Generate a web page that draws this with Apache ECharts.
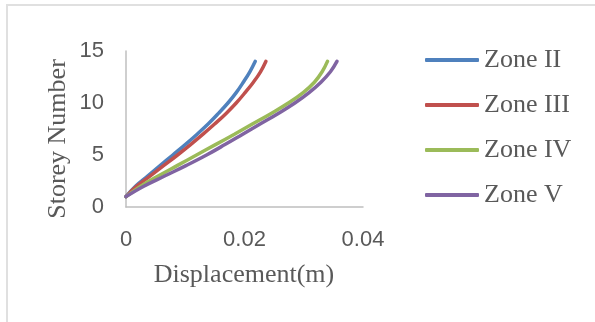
<!DOCTYPE html>
<html>
<head>
<meta charset="utf-8">
<script src="https://cdn.jsdelivr.net/npm/echarts@6/dist/echarts.min.js"></script>
<style>
html,body{margin:0;padding:0;background:#fff;}
#c{width:595px;height:322px;}
</style>
</head>
<body>
<div id="c"></div>
<script>
var storeys = [1,2,3,4,5,6,7,8,9,10,11,12,13,14];
var zoneII  = [0,0.0016,0.0037,0.0058,0.0079,0.0100,0.0120,0.0139,0.0156,0.0172,0.0186,0.0198,0.0209,0.0218];
var zoneIII = [0,0.0018,0.0041,0.0064,0.0087,0.0109,0.0130,0.0150,0.0169,0.0186,0.0201,0.0215,0.0227,0.0236];
var zoneIV  = [0,0.0025,0.0055,0.0087,0.0119,0.0151,0.0183,0.0214,0.0245,0.0274,0.0299,0.0318,0.0331,0.0340];
var zoneV   = [0,0.0030,0.0066,0.0102,0.0136,0.0167,0.0197,0.0227,0.0257,0.0285,0.0309,0.0329,0.0345,0.0356];
var seriesNames = ['Zone II','Zone III','Zone IV','Zone V'];
var xTicks = [0,0.02,0.04];
var yTicks = [0,5,10,15];
var xTitle = 'Displacement(m)';
var yTitle = 'Storey Number';

var colors = ['#4F81BD','#C0504D','#9BBB59','#8064A2'];
var allData = [zoneII, zoneIII, zoneIV, zoneV];

function pairs(arr){ return arr.map(function(d,i){ return [d, storeys[i]]; }); }

var chart = echarts.init(document.getElementById('c'), null, {renderer:'canvas'});
chart.setOption({
  animation:false,
  backgroundColor:'#fff',
  color: colors,
  grid:{left:126, right:232, top:51, bottom:115, containLabel:false},
  xAxis:{
    type:'value', min:xTicks[0], max:xTicks[xTicks.length-1], interval:0.02,
    axisLine:{show:true, lineStyle:{color:'#bfbfbf', width:1.5}},
    axisTick:{show:false},
    splitLine:{show:false},
    axisLabel:{margin:22, fontFamily:'Liberation Sans', fontSize:22, color:'#595959',
      formatter:function(v){ return String(v); }}
  },
  yAxis:{
    type:'value', min:yTicks[0], max:yTicks[yTicks.length-1], interval:5,
    axisLine:{show:true, lineStyle:{color:'#bfbfbf', width:1.5}},
    axisTick:{show:false},
    splitLine:{show:false},
    axisLabel:{margin:22, fontFamily:'Liberation Sans', fontSize:22, color:'#595959'}
  },
  legend:{
    orient:'vertical', left:420, top:42, itemGap:19,
    itemWidth:54, itemHeight:4, icon:'roundRect',
    textStyle:{fontFamily:'Liberation Serif', fontSize:26, color:'#595959', lineHeight:26},
    data: seriesNames
  },
  graphic:[
    {type:'rect', shape:{x:7, y:5, width:700, height:400}, style:{fill:'none', stroke:'#e0e0e0', lineWidth:2}, silent:true},
    {type:'text', x:244, y:275, style:{text:xTitle, font:'26px "Liberation Serif"', fill:'#595959', textAlign:'center', textVerticalAlign:'middle'}},
    {type:'text', x:58, y:139, rotation:Math.PI/2, style:{text:yTitle, font:'26px "Liberation Serif"', fill:'#595959', textAlign:'center', textVerticalAlign:'middle'}}
  ],
  series: allData.map(function(arr, i){
    return {
      name: seriesNames[i], type:'line', data: pairs(arr), smooth:0.4,
      showSymbol:false, symbol:'none',
      lineStyle:{width:3.5, color:colors[i], cap:'round'},
      itemStyle:{color:colors[i]}
    };
  })
});
</script>
</body>
</html>
